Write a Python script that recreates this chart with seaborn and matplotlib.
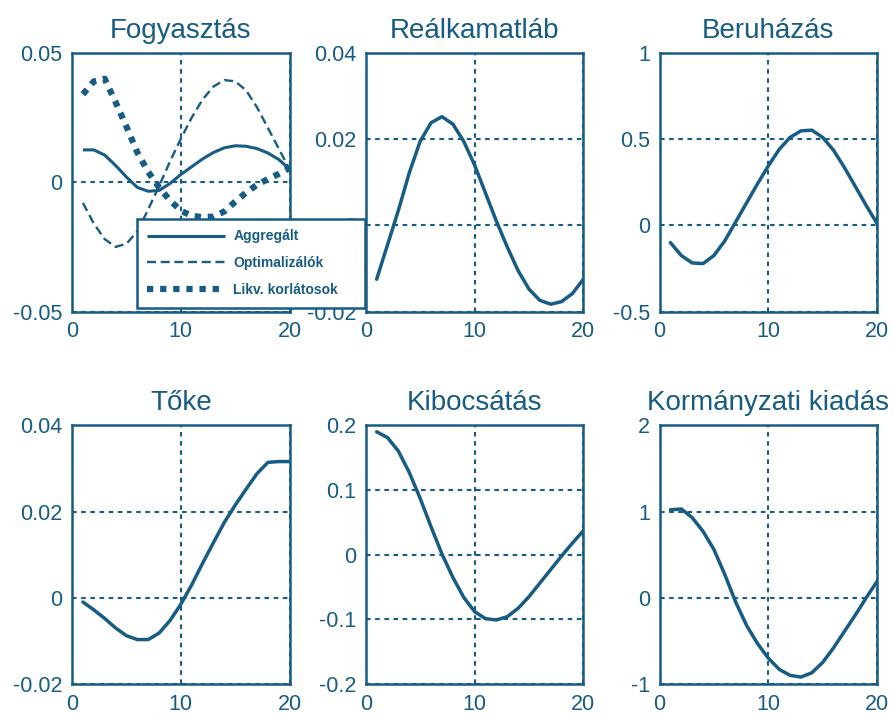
import numpy as np
import pandas as pd
import matplotlib
matplotlib.use("Agg")
import matplotlib.pyplot as plt
import seaborn as sns
from matplotlib.ticker import FuncFormatter

# periods
periods = list(range(1, 21))

# Fogyasztás (three series)
fogy_aggregalt = [0.0125, 0.0125, 0.0105, 0.0065, 0.002, -0.002, -0.0035, -0.0032, -0.0005, 0.003,
                  0.006, 0.009, 0.0115, 0.0133, 0.0141, 0.0139, 0.013, 0.0113, 0.0088, 0.005]
fogy_optimalizalok = [-0.008, -0.016, -0.022, -0.025, -0.0238, -0.019, -0.0105, -0.0015, 0.008, 0.0168,
                      0.025, 0.032, 0.037, 0.0395, 0.039, 0.0355, 0.029, 0.021, 0.013, 0.005]
fogy_likv = [0.034, 0.039, 0.040, 0.031, 0.0215, 0.0115, 0.004, -0.002, -0.007, -0.011,
             -0.013, -0.0135, -0.0133, -0.0113, -0.0075, -0.004, -0.001, 0.0012, 0.0032, 0.0055]

realkamat = [-0.0125, -0.0045, 0.0035, 0.0122, 0.0195, 0.0238, 0.0252, 0.0235, 0.0195, 0.014,
             0.0075, 0.001, -0.005, -0.0105, -0.0148, -0.0174, -0.0183, -0.0177, -0.0158, -0.0125]
beruhazas = [-0.10, -0.175, -0.218, -0.222, -0.175, -0.09, 0.02, 0.13, 0.24, 0.345,
             0.44, 0.51, 0.548, 0.552, 0.51, 0.435, 0.335, 0.225, 0.115, 0.01]
toke = [-0.001, -0.0028, -0.0048, -0.007, -0.0088, -0.0097, -0.0097, -0.0082, -0.0053, -0.0015,
        0.003, 0.008, 0.0128, 0.0175, 0.0215, 0.0252, 0.0288, 0.0314, 0.0316, 0.0316]
kibocsatas = [0.19, 0.181, 0.16, 0.127, 0.087, 0.043, 0.001, -0.035, -0.066, -0.088,
              -0.099, -0.101, -0.096, -0.083, -0.065, -0.044, -0.023, -0.002, 0.018, 0.037]
kormanyzati = [1.02, 1.03, 0.93, 0.77, 0.56, 0.27, -0.05, -0.32, -0.53, -0.70,
               -0.83, -0.90, -0.92, -0.87, -0.75, -0.58, -0.39, -0.20, 0.0, 0.19]

legend_labels = ["Aggregált", "Optimalizálók", "Likv. korlátosok"]

titles = ["Fogyasztás", "Reálkamatláb", "Beruházás", "Tőke", "Kibocsátás", "Kormányzati kiadás"]
yticks = [[-0.05, 0, 0.05], [-0.02, 0, 0.02, 0.04], [-0.5, 0, 0.5, 1],
          [-0.02, 0, 0.02, 0.04], [-0.2, -0.1, 0, 0.1, 0.2], [-1, 0, 1, 2]]
xticks = [0, 10, 20]

C = "#175c84"

sns.set_style("white")
plt.rcParams["font.family"] = ["Liberation Sans", "DejaVu Sans"]
plt.rcParams["axes.unicode_minus"] = False
plt.rcParams["text.color"] = C
plt.rcParams["xtick.color"] = C
plt.rcParams["ytick.color"] = C

fig, axes = plt.subplots(2, 3, figsize=(8.95, 7.15), dpi=100)
fig.subplots_adjust(left=0.0805, right=0.98, bottom=0.0434, top=0.926, wspace=0.35, hspace=0.44)
axes = axes.ravel()

# first panel: three series
df = pd.DataFrame({
    "t": periods * 3,
    "v": fogy_aggregalt + fogy_optimalizalok + fogy_likv,
    "s": [legend_labels[0]] * 20 + [legend_labels[1]] * 20 + [legend_labels[2]] * 20,
})
ax = axes[0]
styles = {legend_labels[0]: dict(lw=2.2, ls="-"),
          legend_labels[1]: dict(lw=1.7, ls=(0, (3.8, 2.0))),
          legend_labels[2]: dict(lw=4.5, ls=(0, (1.0, 1.1)))}
for lab in legend_labels:
    sub = df[df["s"] == lab]
    sns.lineplot(data=sub, x="t", y="v", ax=ax, color=C, label=lab,
                 solid_capstyle="butt", dash_capstyle="butt", **styles[lab])

single = [None, realkamat, beruhazas, toke, kibocsatas, kormanyzati]
for i in range(1, 6):
    sns.lineplot(x=periods, y=single[i], ax=axes[i], color=C, lw=2.5)

for i, ax in enumerate(axes):
    ax.set_xlim(0, 20)
    ax.set_ylim(yticks[i][0], yticks[i][-1])
    ax.set_xticks(xticks)
    ax.set_yticks(yticks[i])
    ax.yaxis.set_major_formatter(FuncFormatter(lambda v, p: "%g" % v))
    ax.tick_params(length=0, labelsize=15.5, pad=7)
    ax.tick_params(axis="x", pad=7)
    ax.set_xlabel("")
    ax.set_ylabel("")
    ax.set_title(titles[i], fontsize=20, color=C, pad=11)
    ax.grid(True, color=C, lw=1.5, ls=(0, (2.2, 2.2)))
    for sp in ax.spines.values():
        sp.set_color(C)
        sp.set_linewidth(1.8)
        sp.set_visible(True)

axes[0].set_zorder(2)
leg = axes[0].legend(loc="lower left", bbox_to_anchor=(0.297, 0.015, 1.05, 0.344), mode="expand",
                     frameon=True, fancybox=False, framealpha=1, edgecolor=C,
                     prop={"size": 10, "weight": "bold"}, handlelength=5.6, handletextpad=0.6,
                     labelspacing=0.93, borderpad=0.75, borderaxespad=0)
leg.get_frame().set_linewidth(1.8)
for t in leg.get_texts():
    t.set_color(C)

fig.savefig("out.png", dpi=100)
